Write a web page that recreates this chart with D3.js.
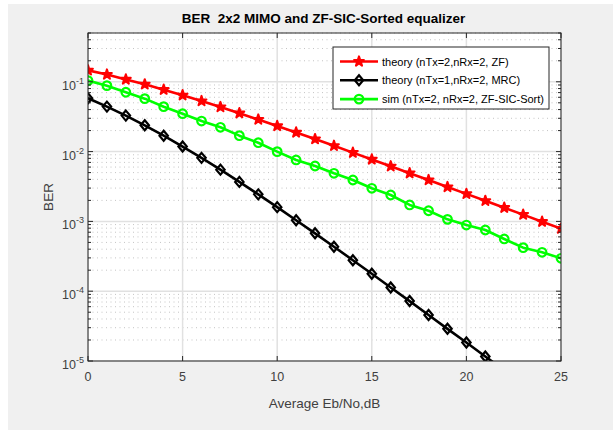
<!DOCTYPE html>
<html>
<head>
<meta charset="utf-8">
<script src="https://cdn.jsdelivr.net/npm/d3@7/dist/d3.min.js"></script>
<style>
  html, body { margin: 0; padding: 0; background: #ffffff; }
  svg { display: block; font-family: "Liberation Sans", Arial, Helvetica, sans-serif; }
</style>
</head>
<body>
<svg id="chart" width="613" height="431"></svg>
<script>
// Eb/No grid in dB
const ebno = [0,1,2,3,4,5,6,7,8,9,10,11,12,13,14,15,16,17,18,19,20,21,22,23,24,25];

// theory, 2x2 MIMO with ZF equalizer
const berZF = [0.146, 0.127, 0.108, 0.0919, 0.0771, 0.0642, 0.0530, 0.0435, 0.0355, 0.0288,
  0.0233, 0.0188, 0.0151, 0.0121, 0.00966, 0.00772, 0.00616, 0.00491, 0.00391, 0.00311,
  0.00248, 0.00197, 0.00157, 0.00125, 0.000991, 0.000788];

// theory, 1x2 maximal ratio combining
const berMRC = [0.0581, 0.0441, 0.0328, 0.0238, 0.0169, 0.0118, 0.00813, 0.00551, 0.00368, 0.00244,
  0.00160, 0.00104, 0.000675, 0.000434, 0.000278, 0.000178, 0.000113, 0.0000722, 0.0000457, 0.0000289,
  0.0000184, 0.0000116, 0.00000736];

// simulation, 2x2 ZF successive interference cancellation with ordering
const berSIC = [0.104, 0.088, 0.0708, 0.0573, 0.0440, 0.0349, 0.0274, 0.0223, 0.0169, 0.0134,
  0.00997, 0.00759, 0.00622, 0.00489, 0.00392, 0.00298, 0.00239, 0.00172, 0.00142, 0.00107,
  0.000887, 0.000753, 0.000560, 0.000420, 0.000361, 0.000296];

const xTicks = [0, 5, 10, 15, 20, 25];
const yDecades = [-5, -4, -3, -2, -1];

const seriesNames = [
  "theory (nTx=2,nRx=2, ZF)",
  "theory (nTx=1,nRx=2, MRC)",
  "sim (nTx=2, nRx=2, ZF-SIC-Sort)"
];

const W = 613, H = 431;
const plot = { left: 88, right: 561, top: 33, bottom: 361 };

const svg = d3.select("#chart");

// figure background
svg.append("rect").attr("x", 8).attr("y", 4).attr("width", W - 8).attr("height", H - 5)
  .attr("fill", "#f0f0f0");

const x = d3.scaleLinear().domain([0, 25]).range([plot.left, plot.right]);
const y = d3.scaleLog().domain([1e-5, 0.5]).range([plot.bottom, plot.top]);

// axes area
svg.append("rect").attr("x", plot.left).attr("y", plot.top)
  .attr("width", plot.right - plot.left).attr("height", plot.bottom - plot.top)
  .attr("fill", "#ffffff");

svg.append("defs").append("clipPath").attr("id", "clip")
  .append("rect").attr("x", plot.left).attr("y", plot.top)
  .attr("width", plot.right - plot.left).attr("height", plot.bottom - plot.top);

// minor y values 2..9 per decade
const minorY = [];
yDecades.forEach(e => { for (let k = 2; k <= 9; k++) { const v = k * Math.pow(10, e); if (v <= 0.5) minorY.push(v); } });
const majorY = yDecades.map(e => Math.pow(10, e));

const grid = svg.append("g");
grid.selectAll(".gmin").data(minorY).join("line")
  .attr("x1", plot.left).attr("x2", plot.right)
  .attr("y1", d => y(d)).attr("y2", d => y(d))
  .attr("stroke", "#c4c4c4").attr("stroke-width", 1).attr("stroke-dasharray", "1,3.5");
grid.selectAll(".gmaj").data(majorY).join("line")
  .attr("x1", plot.left).attr("x2", plot.right)
  .attr("y1", d => y(d)).attr("y2", d => y(d))
  .attr("stroke", "#e1e1e1").attr("stroke-width", 1.5);
grid.selectAll(".gx").data(xTicks).join("line")
  .attr("x1", d => x(d)).attr("x2", d => x(d))
  .attr("y1", plot.top).attr("y2", plot.bottom)
  .attr("stroke", "#e1e1e1").attr("stroke-width", 1.5);

// data series
const series = [
  { name: seriesNames[0], values: berZF, color: "#ff0000", marker: "star" },
  { name: seriesNames[1], values: berMRC, color: "#000000", marker: "diamond" },
  { name: seriesNames[2], values: berSIC, color: "#00ff00", marker: "circle" }
];

const line = d3.line().x(d => x(d[0])).y(d => y(d[1]));

function drawMarker(g, kind, color) {
  if (kind === "star") {
    g.append("path").attr("d", d3.symbol(d3.symbolStar, 30)())
      .attr("fill", color).attr("stroke", color).attr("stroke-width", 2)
      .attr("stroke-linejoin", "round");
  } else if (kind === "diamond") {
    g.append("path").attr("d", "M0,-5L4.2,0L0,5L-4.2,0Z")
      .attr("fill", "none").attr("stroke", color).attr("stroke-width", 2.2);
  } else {
    g.append("circle").attr("r", 4.3)
      .attr("fill", "none").attr("stroke", color).attr("stroke-width", 2.2);
  }
}

const dataLayer = svg.append("g").attr("clip-path", "url(#clip)");
series.forEach(s => {
  const pts = s.values.map((v, i) => [ebno[i], v]);
  dataLayer.append("path").datum(pts).attr("d", line)
    .attr("fill", "none").attr("stroke", s.color).attr("stroke-width", 2.6)
    .attr("stroke-linejoin", "round");
  pts.forEach(p => {
    const g = dataLayer.append("g").attr("transform", `translate(${x(p[0])},${y(p[1])})`);
    drawMarker(g, s.marker, s.color);
  });
});

// axes box and ticks
const axisColor = "#262626";
const ax = svg.append("g");
ax.append("rect").attr("x", plot.left).attr("y", plot.top)
  .attr("width", plot.right - plot.left).attr("height", plot.bottom - plot.top)
  .attr("fill", "none").attr("stroke", axisColor).attr("stroke-width", 1);

xTicks.forEach(t => {
  ax.append("line").attr("x1", x(t)).attr("x2", x(t)).attr("y1", plot.bottom).attr("y2", plot.bottom - 5)
    .attr("stroke", axisColor);
  ax.append("line").attr("x1", x(t)).attr("x2", x(t)).attr("y1", plot.top).attr("y2", plot.top + 5)
    .attr("stroke", axisColor);
  ax.append("text").attr("x", x(t)).attr("y", plot.bottom + 20)
    .attr("text-anchor", "middle").attr("font-size", 12.5).attr("fill", "#404040").text(t);
});

majorY.forEach(v => {
  [[plot.left, 5], [plot.right, -5]].forEach(([x0, dx]) => {
    ax.append("line").attr("x1", x0).attr("x2", x0 + dx).attr("y1", y(v)).attr("y2", y(v))
      .attr("stroke", axisColor);
  });
});
minorY.forEach(v => {
  [[plot.left, 3], [plot.right, -3]].forEach(([x0, dx]) => {
    ax.append("line").attr("x1", x0).attr("x2", x0 + dx).attr("y1", y(v)).attr("y2", y(v))
      .attr("stroke", axisColor);
  });
});

yDecades.forEach(e => {
  const t = ax.append("text").attr("x", plot.left - 4).attr("y", y(Math.pow(10, e)) + 8)
    .attr("text-anchor", "end").attr("fill", "#404040").attr("font-size", 12.5);
  t.append("tspan").text("10");
  t.append("tspan").attr("font-size", 9).attr("dy", -6).text(String(e));
});

// titles
svg.append("text").attr("x", (plot.left + plot.right) / 2 - 1).attr("y", 23)
  .attr("text-anchor", "middle").attr("font-size", 13.5).attr("font-weight", "bold")
  .attr("fill", "#000000").attr("xml:space", "preserve")
  .text("BER  2x2 MIMO and ZF-SIC-Sorted equalizer");

svg.append("text").attr("x", (plot.left + plot.right) / 2).attr("y", 408)
  .attr("text-anchor", "middle").attr("font-size", 13.5).attr("fill", "#404040")
  .text("Average Eb/No,dB");

svg.append("text").attr("transform", `translate(53,${(plot.top + plot.bottom) / 2}) rotate(-90)`)
  .attr("text-anchor", "middle").attr("font-size", 13.5).attr("fill", "#404040")
  .text("BER");

// legend
const leg = svg.append("g").attr("transform", "translate(333,47)");
leg.append("rect").attr("width", 216).attr("height", 62)
  .attr("fill", "#ffffff").attr("stroke", axisColor).attr("stroke-width", 1);
series.forEach((s, i) => {
  const yy = 14.5 + i * 18.8;
  leg.append("line").attr("x1", 7).attr("x2", 45).attr("y1", yy).attr("y2", yy)
    .attr("stroke", s.color).attr("stroke-width", 2.6);
  const g = leg.append("g").attr("transform", `translate(26,${yy})`);
  drawMarker(g, s.marker, s.color);
  leg.append("text").attr("x", 49).attr("y", yy + 4).attr("font-size", 11)
    .attr("fill", "#000000").text(s.name);
});
</script>
</body>
</html>
